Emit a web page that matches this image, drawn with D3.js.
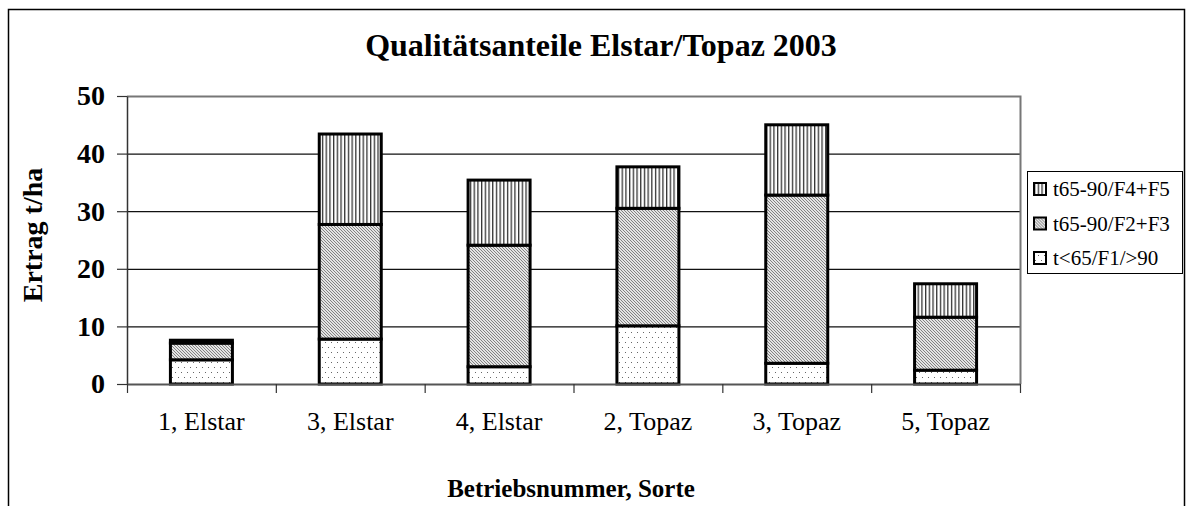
<!DOCTYPE html>
<html>
<head>
<meta charset="utf-8">
<script src="https://cdn.jsdelivr.net/npm/d3@7"></script>
<style>
  body { margin: 0; background: #fff; }
  svg { display: block; font-family: "Liberation Serif", "Times New Roman", serif; }
</style>
</head>
<body>
<div id="chart"></div>
<script>
// Daten
const categories = ["1, Elstar", "3, Elstar", "4, Elstar", "2, Topaz", "3, Topaz", "5, Topaz"];
const seriesNames = ["t<65/F1/>90", "t65-90/F2+F3", "t65-90/F4+F5"];
const lowQuality = [4.2, 7.8, 3.0, 10.1, 3.6, 2.4];
const midQuality = [2.9, 19.9, 21.1, 20.4, 29.2, 9.2];
const topQuality = [0.5, 15.7, 11.3, 7.2, 12.2, 5.8];
const yTicks = [0, 10, 20, 30, 40, 50];

const width = 1187;
const height = 506;
const plot = { left: 127, right: 1020, top: 96, bottom: 384 };
const serif = "Liberation Serif, Times New Roman, serif";

const svg = d3
  .select("#chart")
  .append("svg")
  .attr("width", width)
  .attr("height", height);

// Muster
const defs = svg.append("defs");
const dots = defs.append("pattern").attr("id", "p0")
  .attr("patternUnits", "userSpaceOnUse").attr("width", 6).attr("height", 10);
dots.append("rect").attr("width", 6).attr("height", 10).attr("fill", "#fff");
dots.append("rect").attr("x", 1).attr("y", 2).attr("width", 1).attr("height", 1).attr("fill", "#666");
dots.append("rect").attr("x", 4).attr("y", 7).attr("width", 1).attr("height", 1).attr("fill", "#666");

const diag = defs.append("pattern").attr("id", "p1")
  .attr("patternUnits", "userSpaceOnUse").attr("width", 3).attr("height", 3);
diag.append("rect").attr("width", 3).attr("height", 3).attr("fill", "#e4e4e4");
diag.append("path").attr("d", "M-1,-1 L4,4 M-1,2 L1,4 M2,-1 L4,1")
  .attr("stroke", "#777").attr("stroke-width", 0.9);

const vert = defs.append("pattern").attr("id", "p2")
  .attr("patternUnits", "userSpaceOnUse").attr("width", 3.7).attr("height", 4);
vert.append("rect").attr("width", 3.7).attr("height", 4).attr("fill", "#fff");
vert.append("rect").attr("x", 0).attr("width", 1.3).attr("height", 4).attr("fill", "#333");

// Rahmen
svg.append("rect")
  .attr("x", 8.5).attr("y", 9.5)
  .attr("width", 1176).attr("height", 520)
  .attr("fill", "none").attr("stroke", "#000").attr("stroke-width", 1.5);

// Skalen
const x = d3.scaleBand().domain(categories).range([plot.left, plot.right]);
const y = d3.scaleLinear().domain([0, 50]).range([plot.bottom, plot.top]);
const barW = 62;

// Gitterlinien
svg.append("g")
  .selectAll("line")
  .data(yTicks.filter((d) => d > 0 && d < 50))
  .enter()
  .append("line")
  .attr("x1", plot.left).attr("x2", plot.right)
  .attr("y1", (d) => y(d) + 0.5).attr("y2", (d) => y(d) + 0.5)
  .attr("stroke", "#111").attr("stroke-width", 1.2);

// Plotbereich Rand oben/rechts
svg.append("path")
  .attr("d", `M${plot.left},${plot.top + 0.5} H${plot.right + 0.5} V${plot.bottom}`)
  .attr("fill", "none").attr("stroke", "#777").attr("stroke-width", 2);

// Gestapelte Balken
const table = categories.map((c, i) => ({
  cat: c,
  [seriesNames[0]]: lowQuality[i],
  [seriesNames[1]]: midQuality[i],
  [seriesNames[2]]: topQuality[i]
}));
const stacked = d3.stack().keys(seriesNames)(table);

svg.append("g")
  .selectAll("g")
  .data(stacked)
  .enter()
  .append("g")
  .attr("fill", (d, i) => `url(#p${i})`)
  .selectAll("rect")
  .data((d) => d)
  .enter()
  .append("rect")
  .attr("x", (d) => x(d.data.cat) + x.bandwidth() / 2 - barW / 2)
  .attr("y", (d) => y(d[1]))
  .attr("width", barW)
  .attr("height", (d) => y(d[0]) - y(d[1]))
  .attr("stroke", "#000")
  .attr("stroke-width", 3);

// Y-Achse
const yAxis = svg.append("g")
  .attr("transform", `translate(${plot.left},0)`)
  .call(d3.axisLeft(y).tickValues(yTicks).tickSize(10).tickSizeOuter(0).tickPadding(12));
yAxis.select(".domain").attr("stroke", "#333").attr("stroke-width", 1.5);
yAxis.selectAll(".tick line").attr("stroke", "#333").attr("stroke-width", 1.2);
yAxis.selectAll("text")
  .attr("font-family", serif)
  .attr("font-size", 28).attr("font-weight", "bold").attr("fill", "#000");

// X-Achse
const xAxis = svg.append("g")
  .attr("transform", `translate(0,${plot.bottom})`)
  .call(d3.axisBottom(x).tickSize(0));
xAxis.select(".domain").attr("stroke", "#555").attr("stroke-width", 2);
xAxis.selectAll("text")
  .attr("y", 46).attr("dy", 0)
  .attr("font-family", serif)
  .attr("font-size", 26).attr("fill", "#000");

// Trennstriche zwischen Kategorien
svg.append("g")
  .selectAll("line")
  .data(categories.concat(["end"]))
  .enter()
  .append("line")
  .attr("x1", (d, i) => (i < categories.length ? x(d) : plot.right) + 0.5)
  .attr("x2", (d, i) => (i < categories.length ? x(d) : plot.right) + 0.5)
  .attr("y1", plot.bottom).attr("y2", plot.bottom + 9)
  .attr("stroke", "#333").attr("stroke-width", 1.2);

// Titel
svg.append("text")
  .attr("x", 601).attr("y", 56)
  .attr("text-anchor", "middle")
  .attr("font-size", 32).attr("font-weight", "bold")
  .text("Qualitätsanteile Elstar/Topaz 2003");

svg.append("text")
  .attr("transform", "translate(42,235) rotate(-90)")
  .attr("text-anchor", "middle")
  .attr("font-size", 28).attr("font-weight", "bold")
  .text("Ertrag t/ha");

svg.append("text")
  .attr("x", 571).attr("y", 497)
  .attr("text-anchor", "middle")
  .attr("font-size", 25).attr("font-weight", "bold")
  .text("Betriebsnummer, Sorte");

// Legende
const legend = svg.append("g").attr("transform", "translate(1027,171)");
legend.append("rect")
  .attr("x", 0.5).attr("y", 0.5).attr("width", 155).attr("height", 102)
  .attr("fill", "#fff").attr("stroke", "#000").attr("stroke-width", 1);

const items = legend.selectAll("g.item")
  .data(seriesNames.map((n, i) => ({ n, i })).reverse())
  .enter()
  .append("g")
  .attr("class", "item")
  .attr("transform", (d, k) => `translate(7,${18 + k * 34.5})`);
items.append("rect")
  .attr("x", 0).attr("y", -6).attr("width", 12).attr("height", 12)
  .attr("fill", (d) => `url(#p${d.i})`)
  .attr("stroke", "#000").attr("stroke-width", 2);
items.append("text")
  .attr("x", 19).attr("y", 7)
  .attr("font-size", 21)
  .text((d) => d.n);
</script>
</body>
</html>
